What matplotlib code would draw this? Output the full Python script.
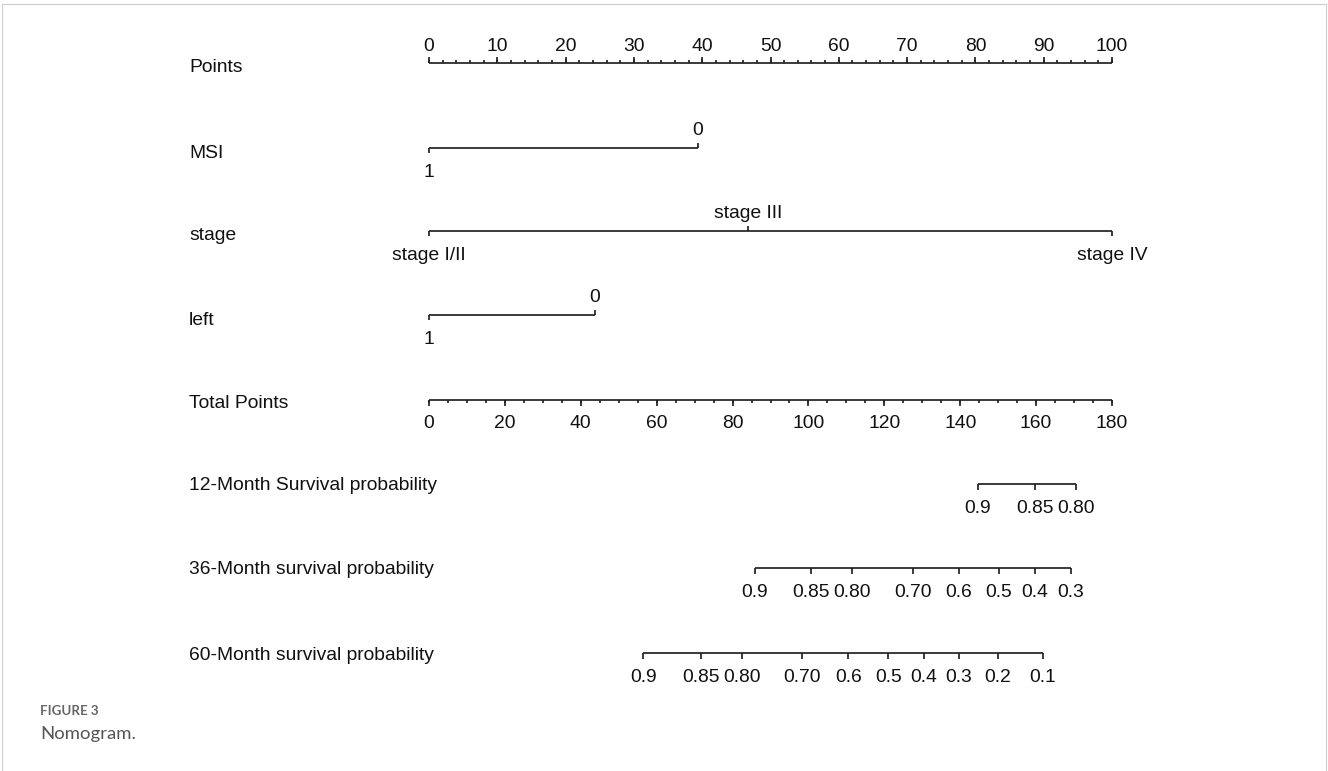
import matplotlib.pyplot as plt
from matplotlib.lines import Line2D

W, H = 1328, 771

# nomogram scales
points_major = list(range(0, 101, 10))
points_minor = list(range(0, 101, 2))

msi_labels = ['1', '0']
msi_points = [0, 39.4]
stage_labels = ['stage I/II', 'stage III', 'stage IV']
stage_points = [0, 46.7, 100]
left_labels = ['1', '0']
left_points = [0, 24.3]

total_max = 180
total_major = list(range(0, 181, 20))
total_minor = list(range(0, 181, 5))

surv12_labels = ['0.9', '0.85', '0.80']
surv12_total = [144.6, 159.7, 170.4]
surv36_labels = ['0.9', '0.85', '0.80', '0.70', '0.6', '0.5', '0.4', '0.3']
surv36_total = [85.9, 100.7, 111.5, 127.6, 139.7, 150.2, 159.7, 169.2]
surv60_labels = ['0.9', '0.85', '0.80', '0.70', '0.6', '0.5', '0.4', '0.3', '0.2', '0.1']
surv60_total = [56.5, 71.6, 82.4, 98.4, 110.5, 121.0, 130.5, 139.7, 149.9, 161.8]

FONT = 'Liberation Sans'
FS = 13.9
LC = '#222222'
TC = '#111111'
LW = 1.25

fig = plt.figure(figsize=(W / 100, H / 100), dpi=100)
# axes: x in points (0-100), y in pixel rows from top
ax = fig.add_axes([429 / W, 0, 683 / W, 1])
ax.set_xlim(0, 100)
ax.set_ylim(H, 0)
ax.axis('off')


def tot(v):
    return [t * 100 / total_max for t in v]


def hline(y, x0, x1):
    ax.plot([x0, x1], [y, y], color=LC, lw=LW, solid_capstyle='butt', clip_on=False)


def tick(x, y, d):
    ax.plot([x, x], [y, y + d], color=LC, lw=LW, solid_capstyle='butt', clip_on=False)


def label(x, y, s):
    ax.text(x, y + 1.5, s, ha='center', va='center', fontsize=FS, family=FONT, color=TC, clip_on=False)


def row_title(y, s):
    fig.text(189 / W, 1 - (y + 2) / H, s, ha='left', va='center', fontsize=FS, family=FONT, color=TC)


# Points
y = 63
row_title(66, 'Points')
hline(y, 0, 100)
for v in points_minor:
    tick(v, y, -3)
for v in points_major:
    tick(v, y, -6)
    label(v, y - 18, str(v))

# categorical rows: labels alternate below / above
for yl, title, labs, pts in [(148, 'MSI', msi_labels, msi_points),
                             (231, 'stage', stage_labels, stage_points),
                             (315, 'left', left_labels, left_points)]:
    row_title(yl + 3, title)
    hline(yl, min(pts), max(pts))
    for i, (lab, p) in enumerate(zip(labs, pts)):
        if i % 2 == 0:
            tick(p, yl, 5)
            label(p, yl + 23, lab)
        else:
            tick(p, yl, -5)
            label(p, yl - 19, lab)

# Total Points
y = 400
row_title(401, 'Total Points')
hline(y, 0, 100)
for v in tot(total_minor):
    tick(v, y, 3)
for v, s in zip(tot(total_major), total_major):
    tick(v, y, 6)
    label(v, y + 22, str(s))

# survival probability rows
for yl, title, labs, tp in [(484, '12-Month Survival probability', surv12_labels, surv12_total),
                            (568, '36-Month survival probability', surv36_labels, surv36_total),
                            (653, '60-Month survival probability', surv60_labels, surv60_total)]:
    row_title(yl, title)
    xs = tot(tp)
    hline(yl, xs[0], xs[-1])
    for x, s in zip(xs, labs):
        tick(x, yl, 6)
        label(x, yl + 23, s)

# light frame around the figure panel
fc = '#cfcfcf'
fig.add_artist(Line2D([2 / W, 1326 / W], [1 - 4 / H, 1 - 4 / H], color=fc, lw=0.8))
fig.add_artist(Line2D([2 / W, 2 / W], [0, 1 - 4 / H], color=fc, lw=0.8))
fig.add_artist(Line2D([1326 / W, 1326 / W], [0, 1 - 4 / H], color=fc, lw=0.8))

# caption
fig.text(40 / W, 1 - 711 / H, 'FIGURE 3', ha='left', va='center', fontsize=9.6,
         family='Lato', weight='bold', color='#666666')
fig.text(40 / W, 1 - 734 / H, 'Nomogram.', ha='left', va='center', fontsize=13.3,
         family='Lato', color='#555555')

fig.savefig('out.png', dpi=100)
